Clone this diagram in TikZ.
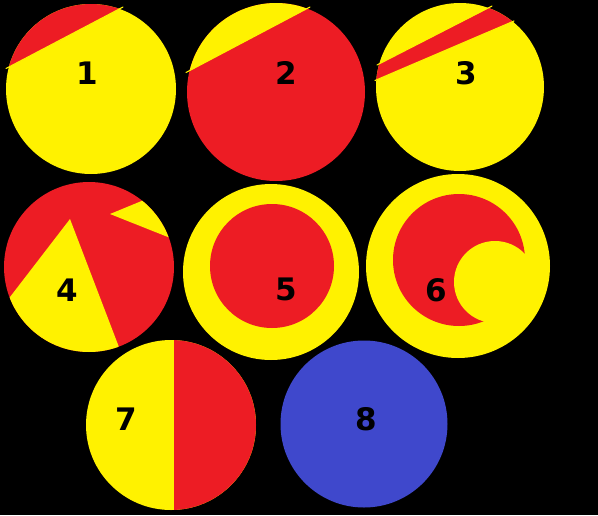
\documentclass[tikz,border=0pt]{standalone}
\usepackage{fontspec}
\setmainfont{DejaVu Sans}
\definecolor{pred}{HTML}{ED1C24}
\definecolor{pyel}{HTML}{FFF200}
\definecolor{pblue}{HTML}{3F48CC}
\begin{document}
\begin{tikzpicture}[x=1pt,y=-1pt,
  lbl/.style={font=\fontsize{31}{31}\selectfont\bfseries, text=black, inner sep=0pt},
  chordline/.style={draw=pyel, line width=1.1pt, line cap=round}]
\fill[black] (0,0) rectangle (598,515);
\useasboundingbox (0,0) rectangle (598,515);
% circle 1
\coordinate (c1) at (91,89);
\fill[pyel] (c1) circle (85);
\begin{scope}
  \clip (c1) circle (85);
  \fill[pred] (7,68) -- (123,7) -- (200,-40) -- (-10,-40) -- (-10,77) -- cycle;
\end{scope}
\coordinate (a1) at (6,68.5); \coordinate (b1) at (123,7);
\draw[chordline] (a1) -- (b1);
\node[lbl] (n1) at (87,73) {1};
% circle 2
\coordinate (c2) at (276,92);
\fill[pred] (c2) circle (89);
\begin{scope}
  \clip (c2) circle (89);
  \fill[pyel] (187,72) -- (310,7) -- (400,-40) -- (170,-40) -- (170,81) -- cycle;
\end{scope}
\coordinate (a2) at (186,72.5); \coordinate (b2) at (310,7);
\draw[chordline] (a2) -- (b2);
\node[lbl] (n2) at (286,73) {2};
% circle 3
\coordinate (c3) at (460,87);
\fill[pyel] (c3) circle (84);
\begin{scope}
  \clip (c3) circle (84);
  \fill[pred] (377,65) -- (493,6) -- (514,21) -- (376,80) -- cycle;
  \fill[pred] (493,6) -- (600,-50) -- (600,-10) -- (514,21) -- cycle;
  \fill[pred] (377,65) -- (340,84) -- (340,96) -- (376,80) -- cycle;
\end{scope}
\coordinate (a3) at (377,65); \coordinate (b3) at (492,6);
\coordinate (d3) at (375,80.5); \coordinate (e3) at (514,21);
\draw[chordline] (a3) -- (b3);
\draw[chordline] (d3) -- (e3);
\node[lbl] (n3) at (466,73) {3};
% circle 4
\coordinate (c4) at (89,267);
\fill[pred] (c4) circle (85);
\begin{scope}
  \clip (c4) circle (85);
  \fill[pyel] (70,219) -- (-10,323) -- (-10,400) -- (135,400) -- (135,389) -- cycle;
  \fill[pyel] (110,214) -- (178,186) -- (198,249) -- cycle;
\end{scope}
\node[lbl] (n4) at (67,290) {4};
% circle 5
\coordinate (c5) at (271,272);
\fill[pyel] (c5) circle (88);
\coordinate (i5) at (272,266);
\fill[pred] (i5) circle (62);
\node[lbl] (n5) at (286,289) {5};
% circle 6
\coordinate (c6) at (458,266);
\fill[pyel] (c6) circle (92);
\coordinate (i6) at (459,260);
\fill[pred] (i6) circle (66);
\coordinate (k6) at (495,282);
\fill[pyel] (k6) circle (41);
\node[lbl] (n6) at (436,290) {6};
% circle 7
\coordinate (c7) at (171,425);
\fill[pyel] (c7) circle (85);
\begin{scope}
  \clip (c7) circle (85);
  \fill[pred] (174,330) rectangle (270,520);
\end{scope}
\node[lbl] (n7) at (126,419) {7};
% circle 8
\coordinate (c8) at (364,424);
\fill[pblue] (c8) circle (83.5);
\node[lbl] (n8) at (366,419) {8};
\end{tikzpicture}
\end{document}
